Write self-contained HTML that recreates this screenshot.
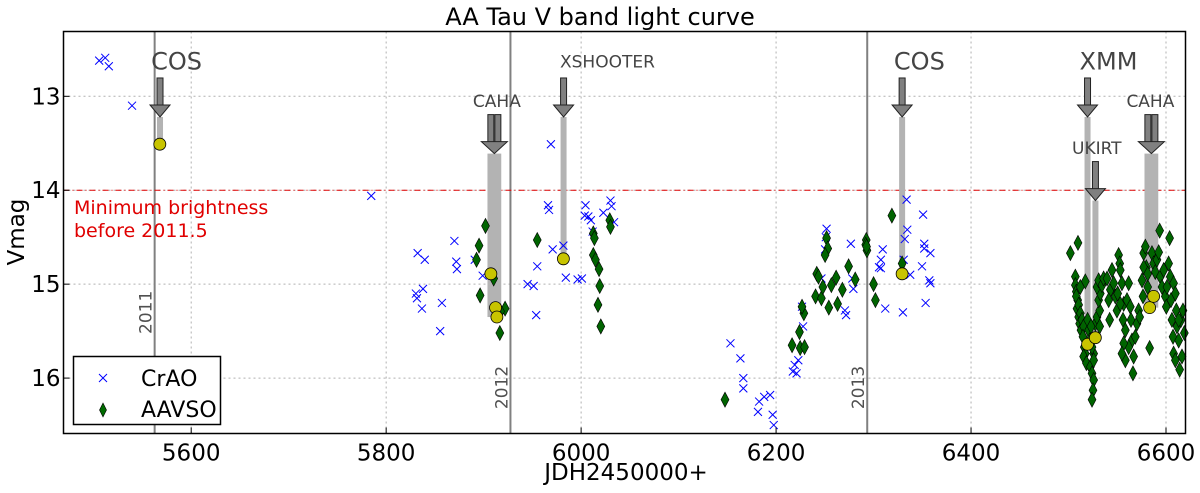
<!DOCTYPE html>
<html><head><meta charset="utf-8"><style>
body{margin:0;background:#fff;}
svg{display:block;font-family:"DejaVu Sans","Liberation Sans",sans-serif;}
</style></head><body>
<svg id="chart" width="1200" height="493" viewBox="0 0 1200 493" xmlns="http://www.w3.org/2000/svg">
<text x="600" y="25" text-anchor="middle" font-size="24">AA Tau V band light curve</text>
<text x="626" y="480" text-anchor="middle" font-size="23">JDH2450000+</text>
<text transform="translate(24,232) rotate(-90)" text-anchor="middle" font-size="23">Vmag</text>
<g id="grid"></g>
<g id="marks"></g>
<rect x="63.5" y="31.5" width="1122" height="402" fill="none" stroke="#000" stroke-width="1.5"/>
<g id="ticks"></g>
<g>
<rect x="73.5" y="356.5" width="147" height="68" fill="#fff" stroke="#000" stroke-width="1.5"/>
<g>
<path d="M99,374 l8,8 M107,374 l-8,8" stroke="#0000ff" stroke-width="1"/>
<text x="141" y="386" font-size="22">CrAO</text></g>
<g>
<path d="M103,403 l3.5,7 l-3.5,7 l-3.5,-7 z" fill="#006b00" stroke="#000" stroke-width="0.6"/>
<text x="141" y="417" font-size="22">AAVSO</text></g>
</g>
</svg>
<script>
const xTicks=[5600,5800,6000,6200,6400,6600];
const yTicks=[13,14,15,16];
const yearLines=[5562.5,5927.5,6293.5];
const yearLabels=["2011","2012","2013"];
const yearLabelMag=[15.3,16.1,16.1];
const minBright=14;
const craoX=[5505.6,5511.8,5515.5,5539.3,5784.7,5832.3,5839.6,5870,5871.9,5872.6,5830.5,5837.8,5831.6,5836.7,5857.2,5855.4,5890.9,5899,5969,5966,5967.1,5970.8,5955,5945.1,5951.3,5953.9,5981.8,5984.3,5996.4,6000.8,6004.5,6003.7,6007.4,6010,6011.8,6022.8,6030.1,6031.2,6033.8,
6153.2,6163.4,6166.4,6166.4,6182.6,6187.8,6181.4,6193.9,6196.5,6197.6,6226.6,6227.7,6222.8,6219.1,6221,6217.2,6251.8,6251,6250.3,6276.7,6246.5,6278.2,6279.3,6270.6,6271.8,6309.4,6307.5,6307.5,6305.6,6312,6330.1,6333.9,6334.6,6332,6330.9,6337.6,6350.8,6352,6352,6358.3,6349.7,6357.2,6358.3,6353.4];
const craoY=[12.62,12.59,12.68,13.10,14.06,14.67,14.74,14.54,14.76,14.84,15.10,15.05,15.15,15.26,15.20,15.50,14.74,14.91,13.51,14.16,14.21,14.63,14.81,15.00,15.02,15.33,14.59,14.93,14.95,14.94,14.16,14.27,14.28,14.32,14.44,14.24,14.11,14.17,14.34,
15.63,15.79,16.00,16.11,16.25,16.20,16.36,16.18,16.39,16.50,15.24,15.45,15.81,15.86,15.95,15.93,14.41,14.50,14.63,14.57,14.94,14.94,15.05,15.28,15.33,14.63,14.74,14.83,14.82,15.26,15.30,14.10,14.42,14.52,14.74,14.90,14.26,14.57,14.62,14.67,14.81,14.96,14.99,15.20];
const aavsoX=[5901.9,5895.3,5892.7,5896.4,5910.3,5916.6,5922,5917.3,5955,6012.5,6013.6,6012.5,6014.7,6018.4,6019.1,6017.3,6020.2,6029.4,6030.1,
6147.6,6216.4,6224.7,6229.2,6224,6228.5,6226.6,6240.5,6246.5,6254.1,6263.1,6268,6256.7,6248,6241.7,6243.5,6261.6,6274.4,6281.2,6300,6301.9,6251.8,6253,6250.3,6292.5,6293.2,6292,6292.8,6318.8,6329.3,
6501.9,6509.7,6507,6507,6508,6509.4,6508.7,6510.4,6511.4,6512.8,6508,6510.4,6512.1,6513.8,6515.5,6514.8,6516.2,6517.2,6515.5,6518.3,6522.4,6524.1,6525.8,6525.1,6524.1,6525.8,6524.1,6520.7,6527.5,6529.2,6532,6530.9,6532.6,6529.2,6530.9,6534.3,6536,6517.2,6512.1,6525.8,6521.7,6519.6,6523.1,6532,
6539.5,6542.9,6541.2,6542.2,6544.6,6546.3,6548,6549.7,6551.4,6552.5,6553.1,6554.8,6556.6,6555.9,6558.3,6561.7,6560,6563.4,6564.1,6565.1,6561.7,6558.3,6566.8,6566.1,6568.5,6570.2,6571.9,6573,6556.6,6554.8,6553.1,6550.4,
6575.4,6576.4,6577.1,6578.8,6579.8,6581.2,6583.2,6585.6,6587.3,6589,6590.7,6592.5,6593.5,6594.2,6595.9,6597.6,6599.3,6600.3,6601,6602.7,6603.7,6604.4,6605.1,6606.1,6607.2,6607.8,6609.6,6610.6,6611.3,6613,6614,6607.8,6609.6,6615.4,6617.4,6618.8,6616.4,6613,6577.1,6581.2];
const aavsoY=[14.38,14.59,14.74,15.12,14.94,15.52,15.26,15.29,14.53,14.46,14.51,14.69,14.74,14.84,15.02,15.22,15.45,14.32,14.39,
16.23,15.65,15.68,15.67,15.51,15.31,15.24,15.13,15.15,15.25,15.21,15.06,15.01,15.03,14.89,14.92,14.93,14.81,14.95,15.00,15.17,14.51,14.62,14.69,14.53,14.64,14.58,14.60,14.27,14.78,
14.67,14.56,14.92,15.01,15.08,15.17,15.26,15.35,15.42,15.49,15.13,15.22,15.31,15.38,15.45,15.56,15.67,15.74,15.77,15.84,15.88,15.95,16.02,16.13,16.23,15.74,15.67,15.49,15.42,15.35,15.28,15.17,15.10,15.03,14.96,15.01,14.94,14.97,15.03,15.81,15.60,15.38,15.45,15.45,
14.94,15.06,15.17,15.38,14.85,14.99,15.13,15.28,14.69,14.78,14.85,14.99,15.21,15.38,15.49,14.99,15.17,15.24,15.38,15.60,15.67,15.81,15.77,15.95,15.56,15.42,15.28,15.35,15.63,15.74,15.21,15.10,
14.96,15.13,14.67,14.60,14.82,15.03,15.68,14.67,14.78,14.87,14.74,14.66,14.43,14.92,15.03,14.85,15.13,15.24,15.03,14.78,14.51,14.92,15.17,15.38,15.56,14.99,15.10,15.28,15.45,15.60,15.91,15.74,15.81,15.38,15.28,15.52,15.77,15.38,14.82,14.89];
const obsX=[5567.8,5907.4,5912.2,5913.6,5981.8,6329.3,6519.6,6527.5,6583.2,6587.3];
const obsY=[13.51,14.89,15.25,15.35,14.73,14.89,15.64,15.57,15.25,15.13];
const annLabels=["COS","CAHA","XSHOOTER","COS","XMM","UKIRT","CAHA"];
const annX=[5568,5911,5982,6329.3,6519.5,6527.6,6585];
const annXmin=[5568,5907,5982,6329.3,6519.5,6527.6,6581];
const annXmax=[5568,5915,5982,6329.3,6519.5,6527.6,6589];
const annTip=[13.22,13.61,13.22,13.22,13.22,14.11,13.61];
const annEnd=[13.51,15.35,14.73,14.89,15.64,15.57,15.25];
const annLabelX=[5585,5913.6,6027,6347,6541,6529,6584];
const annLabelMag=[12.62,13.04,12.62,12.62,12.62,13.54,13.04];
const annBig=[1,0,0,1,1,0,0];
const annDouble=[0,1,0,0,0,0,1];

const X0=63.5,X1=1185.5,Y0=31.5,Y1=433.5;
const xMin=5469,xMax=6620,yMin=12.31,yMax=16.59;
const sx=v=>X0+(v-xMin)/(xMax-xMin)*(X1-X0);
const sy=v=>Y0+(v-yMin)/(yMax-yMin)*(Y1-Y0);
const NS="http://www.w3.org/2000/svg";
function mk(tag,attrs,parent,txt){const e=document.createElementNS(NS,tag);for(const k in attrs)e.setAttribute(k,attrs[k]);if(txt!==undefined)e.textContent=txt;parent.appendChild(e);return e;}
const grid=document.getElementById('grid'),marks=document.getElementById('marks'),ticks=document.getElementById('ticks');
xTicks.forEach(t=>{
 const l=mk('line',{x1:sx(t),x2:sx(t),y1:Y0,y2:Y1,stroke:'#b0b0b0','stroke-dasharray':'2,3','stroke-width':1},grid);
 
 
 const tk=mk('line',{x1:sx(t),x2:sx(t),y1:Y1,y2:Y1-6,stroke:'#000'},ticks);
 
 
 const tl=mk('text',{x:sx(t),y:Y1+27,'text-anchor':'middle','font-size':23},ticks,String(t));
 
 
});
yTicks.forEach(t=>{
 const l=mk('line',{x1:X0,x2:X1,y1:sy(t),y2:sy(t),stroke:'#b0b0b0','stroke-dasharray':'2,3','stroke-width':1},grid);
 
 
 const tk=mk('line',{x1:X0,x2:X0+6,y1:sy(t),y2:sy(t),stroke:'#000'},ticks);
 
 
 const tl=mk('text',{x:X0-3,y:sy(t)+8,'text-anchor':'end','font-size':23},ticks,String(t));
 
 
});
yearLines.forEach((v,i)=>{
 const l=mk('line',{x1:sx(v),x2:sx(v),y1:Y0,y2:Y1,stroke:'#808080','stroke-width':2},marks);
 
 
 const t=mk('text',{transform:`translate(${sx(v)-3},${sy(yearLabelMag[i])}) rotate(-90)`,'text-anchor':'middle','font-size':17,fill:'#505050'},marks,yearLabels[i]);
 
 
});
const ml=mk('line',{x1:X0,x2:X1,y1:sy(minBright),y2:sy(minBright),stroke:'#e00000','stroke-width':1,'stroke-dasharray':'6,3,1,3'},marks);


const mt=mk('text',{x:74,y:sy(minBright)+24,'font-size':19,fill:'#e00000'},marks);


mk('tspan',{x:74},mt,'Minimum brightness');
mk('tspan',{x:74,dy:23},mt,'before 2011.5');
annLabels.forEach((lab,i)=>{
 const x0=sx(annXmin[i]),x1=sx(annXmax[i]);
 const r=mk('rect',{x:Math.min(x0,x1)-3,y:sy(annTip[i]),width:Math.abs(x1-x0)+6,height:sy(annEnd[i])-sy(annTip[i]),fill:'#b3b3b3'},marks);
 
 
});
craoX.forEach((v,i)=>{
 const x=sx(v),y=sy(craoY[i]);
 const p=mk('path',{d:`M${x-4},${y-4}L${x+4},${y+4}M${x+4},${y-4}L${x-4},${y+4}`,stroke:'#0000ff','stroke-width':1},marks);
 
 
});
aavsoX.forEach((v,i)=>{
 const x=sx(v),y=sy(aavsoY[i]);
 const p=mk('path',{d:`M${x},${y-7.5}L${x+4},${y}L${x},${y+7.5}L${x-4},${y}Z`,fill:'#006400',stroke:'#000','stroke-width':0.6},marks);
 
 
});
obsX.forEach((v,i)=>{
 const c=mk('circle',{cx:sx(v),cy:sy(obsY[i]),r:6,fill:'#c8c400',stroke:'#000','stroke-width':0.8},marks);
 
 
});
annLabels.forEach((lab,i)=>{
 const x=sx(annX[i]),tip=sy(annTip[i]);
 const g=mk('g',{},marks);
 
 
 const offs=annDouble[i]?[-3.5,3.5]:[0];
 const hw=annDouble[i]?13:10;
 offs.forEach(o=>mk('rect',{x:x+o-3,y:tip-39,width:6,height:28,fill:'#808080',stroke:'#222','stroke-width':1},g));
 mk('path',{d:`M${x-hw},${tip-12}L${x+hw},${tip-12}L${x},${tip}Z`,fill:'#808080',stroke:'#222','stroke-width':1},g);
 mk('text',{x:sx(annLabelX[i]),y:sy(annLabelMag[i])+(annBig[i]?9:7),'text-anchor':'middle','font-size':annBig[i]?24:17,fill:'#444'},g,lab);
});
</script>
</body></html>
